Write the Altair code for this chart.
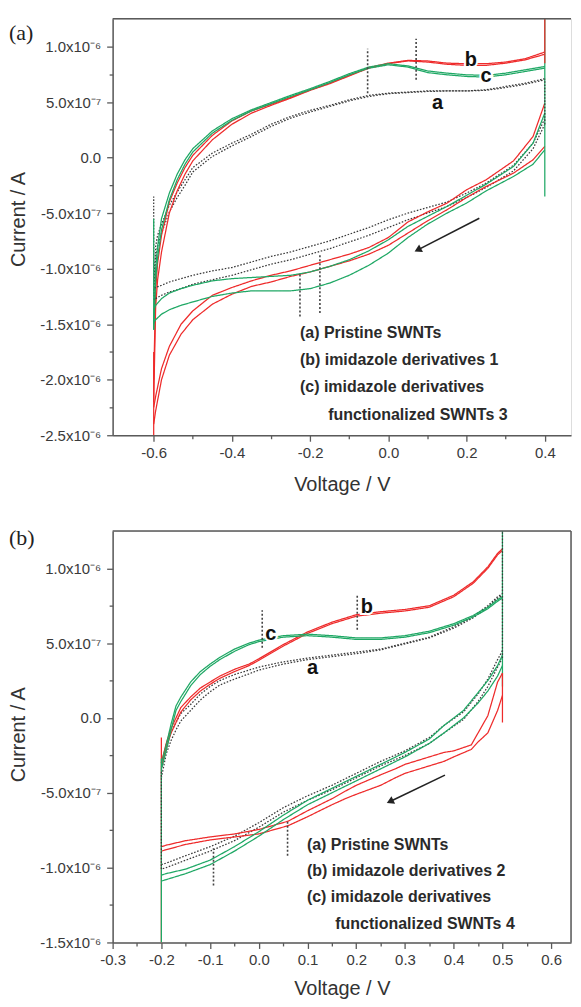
import altair as alt
import pandas as pd

RED = "#ee2b2b"
GREEN = "#1fa865"
BLACK = "#3a3a3a"
AXC = "#5a5a5a"
FONT = "Liberation Sans"

# ================= Panel (a): current in units of 1e-7 A =================
pa_up_V = [-0.6, -0.595, -0.59, -0.58, -0.56, -0.54, -0.52, -0.5, -0.45, -0.4, -0.35, -0.3, -0.25,
           -0.2, -0.15, -0.1, -0.05, 0.0, 0.05, 0.1, 0.15, 0.2, 0.25, 0.3, 0.35, 0.4]
pa_a_up1 = [-11.5, -8.0, -7.0, -6.0, -4.3, -3.1, -2.0, -0.9, 0.4, 1.3, 2.1, 3.0, 3.7,
            4.25, 4.7, 5.2, 5.6, 5.8, 5.9, 6.0, 6.0, 6.0, 6.1, 6.4, 6.7, 7.1]
pa_a_up2 = [-12.3, -9.0, -8.0, -6.8, -4.9, -3.6, -2.5, -1.3, 0.1, 1.05, 1.9, 2.8, 3.55,
            4.1, 4.6, 5.1, 5.5, 5.75, 5.85, 5.95, 6.0, 6.0, 6.05, 6.3, 6.6, 7.0]
pa_b_up1 = [-20.0, -12.0, -9.5, -7.0, -4.0, -2.3, -0.9, 0.2, 2.0, 3.3, 4.2, 4.8, 5.4,
            6.1, 6.7, 7.4, 8.1, 8.5, 8.75, 8.7, 8.5, 8.45, 8.45, 8.6, 8.9, 9.5]
pa_b_up2 = [-22.0, -13.5, -11.0, -8.5, -5.0, -3.0, -1.5, -0.3, 1.6, 3.0, 4.0, 4.7, 5.35,
            6.05, 6.65, 7.35, 8.05, 8.45, 8.7, 8.6, 8.4, 8.3, 8.3, 8.5, 8.8, 9.3]
pa_c_up1 = [-15.0, -10.0, -8.0, -5.5, -3.2, -1.5, -0.2, 0.8, 2.4, 3.5, 4.3, 4.95, 5.6,
            6.2, 6.85, 7.55, 8.15, 8.45, 8.25, 7.8, 7.6, 7.45, 7.4, 7.6, 7.9, 8.2]
pa_c_up2 = [-15.5, -11.0, -9.0, -6.5, -3.8, -2.0, -0.6, 0.5, 2.2, 3.35, 4.2, 4.85, 5.5,
            6.1, 6.75, 7.45, 8.05, 8.35, 8.15, 7.65, 7.45, 7.3, 7.25, 7.45, 7.75, 8.05]

pa_lo_V = [0.4, 0.37, 0.32, 0.25, 0.2, 0.15, 0.1, 0.05, 0.0, -0.05, -0.1, -0.15, -0.2, -0.25,
           -0.3, -0.35, -0.4, -0.45, -0.5, -0.53, -0.56, -0.58, -0.595, -0.6]
pa_a_lo1 = [3.5, 1.3, -0.7, -2.3, -3.2, -4.0, -4.5, -5.0, -5.6, -6.3, -6.9, -7.5, -8.0, -8.5,
            -8.9, -9.4, -9.9, -10.2, -10.6, -10.9, -11.2, -11.5, -11.7, -11.8]
pa_a_lo2 = [3.0, 0.8, -1.2, -2.7, -3.6, -4.4, -5.0, -5.6, -6.3, -7.0, -7.6, -8.2, -8.7, -9.2,
            -9.6, -10.1, -10.6, -11.0, -11.4, -11.8, -12.1, -12.4, -12.7, -12.8]
pa_b_lo1 = [4.9, 1.9, -0.3, -2.0, -2.9, -4.1, -4.9, -5.8, -7.2, -8.1, -8.7, -9.2, -9.7, -10.2,
            -10.6, -11.1, -11.7, -12.4, -13.8, -15.0, -17.0, -19.0, -21.5, -22.5]
pa_b_lo2 = [1.0, -0.2, -1.4, -2.6, -3.6, -4.7, -5.7, -6.8, -7.9, -8.7, -9.3, -9.8, -10.3, -10.7,
            -11.2, -11.6, -12.3, -13.2, -14.6, -15.9, -17.8, -20.0, -22.8, -24.0]
pa_c_lo1 = [4.0, 1.3, -0.8, -2.4, -3.4, -4.4, -5.3, -6.2, -7.4, -8.4, -9.2, -9.8, -10.3, -10.6,
            -10.7, -10.8, -10.9, -11.1, -11.5, -11.8, -12.2, -12.7, -13.3, -13.7]
pa_c_lo2 = [0.7, -0.6, -1.7, -3.0, -4.1, -5.0, -6.0, -7.2, -8.6, -9.7, -10.6, -11.3, -11.8, -12.0,
            -12.0, -12.0, -12.2, -12.5, -13.0, -13.3, -13.7, -14.1, -14.6, -14.9]

# potential-switching vertical segments
pa_vert_sample = ["a", "c", "b", "c", "b", "a"]
pa_vert_V = [-0.6, -0.6, -0.6, 0.4, 0.4, 0.4]
pa_vert_lo = [-12.8, -15.5, -25.0, -3.5, 8.5, 3.0]
pa_vert_hi = [-3.5, -5.5, -17.5, 12.5, 12.5, 7.1]

# dashed peak markers
pa_mark_V = [-0.053, 0.071, -0.226, -0.175]
pa_mark_lo = [5.8, 7.0, -14.3, -14.0]
pa_mark_hi = [9.8, 10.7, -10.4, -8.8]

pa_letters = ["b", "c", "a"]
pa_letter_V = [0.211, 0.25, 0.126]
pa_letter_I = [8.24, 6.83, 4.34]

pa_notes = ["(a) Pristine SWNTs", "(b) imidazole derivatives 1", "(c) imidazole derivatives",
            "functionalized SWNTs 3"]
pa_note_V = [-0.226, -0.226, -0.226, -0.154]
pa_note_I = [-16.2, -18.65, -21.13, -23.6]

pa_arrow_V = [0.2326, 0.0753]
pa_arrow_I = [-5.46, -8.31]

# ================= Panel (b) =================
pb_up_V = [-0.2, -0.19, -0.18, -0.17, -0.16, -0.14, -0.12, -0.1, -0.08, -0.05, -0.02, 0.0,
           0.05, 0.1, 0.15, 0.2, 0.25, 0.3, 0.35, 0.4, 0.44, 0.47, 0.49, 0.5]
pb_a_up1 = [-3.5, -1.8, -0.95, -0.3, 0.3, 0.9, 1.6, 2.1, 2.5, 2.9, 3.2, 3.4,
            3.75, 4.0, 4.2, 4.4, 4.6, 5.0, 5.4, 6.1, 6.8, 7.5, 8.1, 8.3]
pb_a_up2 = [-4.0, -2.4, -1.5, -0.8, -0.2, 0.5, 1.2, 1.75, 2.2, 2.6, 2.95, 3.2,
            3.6, 3.9, 4.1, 4.3, 4.55, 4.95, 5.35, 6.0, 6.7, 7.4, 8.0, 8.2]
pb_b_up1 = [-3.0, -1.7, -0.7, 0.0, 0.7, 1.4, 2.0, 2.4, 2.8, 3.25, 3.6, 3.95,
            4.9, 5.75, 6.4, 6.9, 7.1, 7.25, 7.5, 8.2, 9.1, 10.1, 11.0, 11.3]
pb_b_up2 = [-3.3, -2.0, -1.0, -0.3, 0.4, 1.2, 1.8, 2.25, 2.65, 3.1, 3.5, 3.85,
            4.8, 5.65, 6.3, 6.8, 7.0, 7.15, 7.4, 8.1, 9.0, 10.0, 10.9, 11.2]
pb_c_up1 = [-3.0, -1.8, -0.4, 0.8, 1.4, 2.4, 3.1, 3.6, 4.05, 4.6, 5.0, 5.2,
            5.5, 5.6, 5.5, 5.35, 5.35, 5.5, 5.8, 6.3, 6.85, 7.4, 7.9, 8.1]
pb_c_up2 = [-3.4, -2.2, -0.8, 0.5, 1.1, 2.15, 2.9, 3.45, 3.9, 4.45, 4.9, 5.1,
            5.4, 5.5, 5.4, 5.25, 5.25, 5.4, 5.7, 6.2, 6.75, 7.3, 7.8, 8.0]

pb_lo_V = [0.5, 0.49, 0.47, 0.45, 0.42, 0.38, 0.35, 0.3, 0.25, 0.2, 0.15, 0.1, 0.05, 0.0,
           -0.05, -0.1, -0.15, -0.19, -0.2]
pb_a_lo1 = [4.5, 3.9, 2.6, 1.6, 0.4, -0.5, -1.3, -2.2, -2.9, -3.7, -4.5, -5.2, -6.0, -7.0,
            -7.9, -8.6, -9.2, -9.7, -9.8]
pb_a_lo2 = [4.0, 3.4, 2.1, 1.1, -0.1, -1.0, -1.7, -2.5, -3.2, -4.0, -4.8, -5.5, -6.3, -7.3,
            -8.2, -8.9, -9.5, -10.0, -10.1]
pb_c_lo1 = [4.2, 3.5, 2.5, 1.7, 0.5, -0.5, -1.4, -2.3, -3.1, -3.9, -4.7, -5.5, -6.5, -7.6,
            -8.6, -9.5, -10.1, -10.4, -10.5]
pb_c_lo2 = [3.5, 2.8, 1.8, 1.0, 0.0, -1.0, -1.7, -2.6, -3.4, -4.2, -5.0, -5.8, -6.8, -7.9,
            -8.9, -9.8, -10.4, -10.8, -10.9]
pb_blo_V = [0.5, 0.49, 0.47, 0.45, 0.436, 0.4, 0.38, 0.35, 0.3, 0.28, 0.25, 0.2, 0.177, 0.15,
            0.1, 0.06, 0.0, -0.05, -0.1, -0.15, -0.19, -0.2]
pb_b_lo1 = [3.0, 2.4, 0.15, -1.0, -1.8, -2.2, -2.3, -2.6, -3.1, -3.4, -3.8, -4.5, -4.9, -5.4,
            -6.2, -6.9, -7.45, -7.75, -7.95, -8.2, -8.5, -8.6]
pb_b_lo2 = [1.5, 0.5, -1.0, -1.6, -2.1, -2.6, -2.9, -3.2, -3.7, -4.0, -4.5, -5.1, -5.4, -5.8,
            -6.6, -7.2, -7.75, -7.95, -8.15, -8.45, -8.8, -8.9]

pb_vert_sample = ["b", "c", "a", "c", "b", "a"]
pb_vert_V = [-0.2, -0.2, -0.2, 0.5, 0.5, 0.5]
pb_vert_lo = [-15.0, -15.0, -10.1, 2.1, -0.3, 4.0]
pb_vert_hi = [-1.3, -2.7, -3.5, 12.5, 3.0, 12.5]

pb_mark_V = [0.007, 0.202, -0.093, 0.059]
pb_mark_lo = [4.7, 5.9, -11.2, -9.2]
pb_mark_hi = [7.2, 8.3, -8.7, -6.8]

pb_letters = ["c", "b", "a"]
pb_letter_V = [0.0246, 0.2215, 0.110]
pb_letter_I = [5.23, 7.0, 2.91]

pb_notes = ["(a) Pristine SWNTs", "(b) imidazole derivatives 2", "(c) imidazole derivatives",
            "functionalized SWNTs 4"]
pb_note_V = [0.0988, 0.0988, 0.0988, 0.157]
pb_note_I = [-8.79, -10.55, -12.32, -14.09]

pb_arrow_V = [0.382, 0.2693]
pb_arrow_I = [-3.82, -5.58]


def curves_df(traces):
    frames = []
    for sample, name, V, I in traces:
        assert len(V) == len(I), name
        frames.append(pd.DataFrame({"V": V, "I": I, "sample": sample, "trace": name,
                                    "ord": list(range(len(V)))}))
    return pd.concat(frames, ignore_index=True)


pa_curves = curves_df([
    ("a", "a_up1", pa_up_V, pa_a_up1), ("a", "a_up2", pa_up_V, pa_a_up2),
    ("b", "b_up1", pa_up_V, pa_b_up1), ("b", "b_up2", pa_up_V, pa_b_up2),
    ("c", "c_up1", pa_up_V, pa_c_up1), ("c", "c_up2", pa_up_V, pa_c_up2),
    ("a", "a_lo1", pa_lo_V, pa_a_lo1), ("a", "a_lo2", pa_lo_V, pa_a_lo2),
    ("b", "b_lo1", pa_lo_V, pa_b_lo1), ("b", "b_lo2", pa_lo_V, pa_b_lo2),
    ("c", "c_lo1", pa_lo_V, pa_c_lo1), ("c", "c_lo2", pa_lo_V, pa_c_lo2),
])
pb_curves = curves_df([
    ("a", "a_up1", pb_up_V, pb_a_up1), ("a", "a_up2", pb_up_V, pb_a_up2),
    ("b", "b_up1", pb_up_V, pb_b_up1), ("b", "b_up2", pb_up_V, pb_b_up2),
    ("c", "c_up1", pb_up_V, pb_c_up1), ("c", "c_up2", pb_up_V, pb_c_up2),
    ("a", "a_lo1", pb_lo_V, pb_a_lo1), ("a", "a_lo2", pb_lo_V, pb_a_lo2),
    ("b", "b_lo1", pb_blo_V, pb_b_lo1), ("b", "b_lo2", pb_blo_V, pb_b_lo2),
    ("c", "c_lo1", pb_lo_V, pb_c_lo1), ("c", "c_lo2", pb_lo_V, pb_c_lo2),
])

COLOR = alt.Scale(domain=["a", "b", "c"], range=[BLACK, RED, GREEN])
DASH = alt.Scale(domain=["a", "b", "c"], range=[[1.6, 1.6], [1, 0], [1, 0]])

Y_LABEL = ("datum.value % 5 != 0 ? '' : datum.value == 0 ? '0.0' : "
           "abs(datum.value) >= 10 ? replace(format(datum.value / 10, '.1f'), '\u2212', '-') + 'x10\u207b\u2076' : "
           "replace(format(datum.value, '.1f'), '\u2212', '-') + 'x10\u207b\u2077'")


def panel(curves, vs, vV, vlo, vhi, mV, mlo, mhi, lt, lV, lI, nt, nV, nI, aV, aI, ang,
          xdom, xvals, xminor, ydom, yvals, W, H, tag, tag_y, right_border, xtitle_y, ytitle_y):
    xs = alt.Scale(domain=xdom, nice=False, zero=False)
    ys = alt.Scale(domain=ydom, nice=False, zero=False)
    common = dict(grid=False, domainColor=AXC, domainWidth=1.5, tickColor=AXC, tickWidth=1.3,
                  labelFont=FONT, labelFontSize=15, labelColor="#3a3a3a", labelOverlap=False,
                  labelFlush=False, titleFont=FONT, titleFontSize=20, titleFontWeight="normal",
                  titleColor="#333333", titleBaseline="alphabetic")
    xaxis = alt.Axis(values=xvals, title="Voltage / V",
                     labelExpr=f"{xminor} ? '' : replace(format(datum.value, '.1f'), '\u2212', '-')",
                     tickSize={"condition": {"test": xminor, "value": 3.5}, "value": 6},
                     labelPadding=4, titleY=xtitle_y, **common)
    yaxis = alt.Axis(values=yvals, title="Current / A", labelExpr=Y_LABEL,
                     tickSize={"condition": {"test": "datum.value % 5 != 0", "value": 3.5}, "value": 6},
                     labelPadding=6, titleX=-88, titleY=ytitle_y, **common)
    X = alt.X("V:Q", scale=xs, axis=xaxis)
    Y = alt.Y("I:Q", scale=ys, axis=yaxis)

    lines = alt.Chart(curves).mark_line(strokeWidth=1.25, clip=True).encode(
        x=X, y=Y,
        color=alt.Color("sample:N", scale=COLOR, legend=None),
        strokeDash=alt.StrokeDash("sample:N", scale=DASH, legend=None),
        detail="trace:N", order="ord:Q")

    vdf = pd.DataFrame({"V": vV, "I": vlo, "I2": vhi, "sample": vs})
    verts = alt.Chart(vdf).mark_rule(strokeWidth=1.25, clip=True).encode(
        x=X, y=Y, y2="I2:Q",
        color=alt.Color("sample:N", scale=COLOR, legend=None),
        strokeDash=alt.StrokeDash("sample:N", scale=DASH, legend=None))

    mdf = pd.DataFrame({"V": mV, "I": mlo, "I2": mhi})
    marks = alt.Chart(mdf).mark_rule(color="#444444", strokeWidth=1.6, strokeDash=[2, 2]).encode(
        x=X, y=Y, y2="I2:Q")

    ldf = pd.DataFrame({"V": lV, "I": lI, "t": lt})
    halo = alt.Chart(ldf).mark_text(font=FONT, fontSize=20, fontWeight="bold", baseline="alphabetic",
                                    align="center", stroke="white", strokeWidth=4, fill="white").encode(
        x=X, y=Y, text="t:N")
    letters = alt.Chart(ldf).mark_text(font=FONT, fontSize=20, fontWeight="bold", baseline="alphabetic",
                                       align="center", color="#111111").encode(x=X, y=Y, text="t:N")

    ndf = pd.DataFrame({"V": nV, "I": nI, "t": nt})
    notes = alt.Chart(ndf).mark_text(font=FONT, fontSize=16, fontWeight="bold", baseline="alphabetic",
                                     align="left", color="#2a2a2a").encode(x=X, y=Y, text="t:N")

    adf = pd.DataFrame({"V": aV, "I": aI, "ord": [0, 1]})
    shaft = alt.Chart(adf).mark_line(color="#222222", strokeWidth=1.6).encode(x=X, y=Y, order="ord:Q")
    head = alt.Chart(adf.iloc[[1]]).mark_point(shape="triangle-right", angle=ang, filled=True,
                                              size=70, color="#222222", opacity=1).encode(x=X, y=Y)

    one = pd.DataFrame({"t": [tag]})
    top = alt.Chart(one).mark_rule(color=AXC, strokeWidth=1.5).encode(
        x=alt.value(0), x2=alt.value(W), y=alt.value(0))
    label = alt.Chart(one).mark_text(font="Liberation Serif", fontSize=22, align="left",
                                     baseline="alphabetic", color="#222222").encode(
        x=alt.value(-104), y=alt.value(tag_y), text="t:N")
    layers = [lines, verts, marks, shaft, head, halo, letters, notes, top, label]
    if right_border:
        layers.append(alt.Chart(one).mark_rule(color=AXC, strokeWidth=1.5).encode(
            x=alt.value(W), y=alt.value(0), y2=alt.value(H)))
    return alt.layer(*layers).properties(width=W, height=H)


pa = panel(pa_curves, pa_vert_sample, pa_vert_V, pa_vert_lo, pa_vert_hi,
           pa_mark_V, pa_mark_lo, pa_mark_hi, pa_letters, pa_letter_V, pa_letter_I,
           pa_notes, pa_note_V, pa_note_I, pa_arrow_V, pa_arrow_I, 153,
           [-0.705, 0.467], [-0.6, -0.5, -0.4, -0.3, -0.2, -0.1, 0.0, 0.1, 0.2, 0.3, 0.4],
           "abs(round(datum.value * 10)) % 2 == 1",
           [-25, 12.5], [-25, -22.5, -20, -17.5, -15, -12.5, -10, -7.5, -5, -2.5, 0, 2.5, 5, 7.5, 10],
           460, 418, "(a)", 21, False, 55.5, 201)

pb = panel(pb_curves, pb_vert_sample, pb_vert_V, pb_vert_lo, pb_vert_hi,
           pb_mark_V, pb_mark_lo, pb_mark_hi, pb_letters, pb_letter_V, pb_letter_I,
           pb_notes, pb_note_V, pb_note_I, pb_arrow_V, pb_arrow_I, 154,
           [-0.3, 0.6407], [-0.3, -0.25, -0.2, -0.15, -0.1, -0.05, 0.0, 0.05, 0.1, 0.15, 0.2,
                            0.25, 0.3, 0.35, 0.4, 0.45, 0.5, 0.55, 0.6],
           "abs(round(datum.value * 100)) % 10 != 0",
           [-15, 12.5], [-15, -12.5, -10, -7.5, -5, -2.5, 0, 2.5, 5, 7.5, 10],
           460, 413, "(b)", 14, True, 52, 204)

chart = alt.vconcat(pa, pb, spacing=96, bounds="flush").properties(
    padding={"left": 0, "top": 7, "right": 0, "bottom": 0}
).configure_view(stroke=None).configure(background="white")

chart.save("out.html", embed_options={"renderer": "svg", "actions": False})
